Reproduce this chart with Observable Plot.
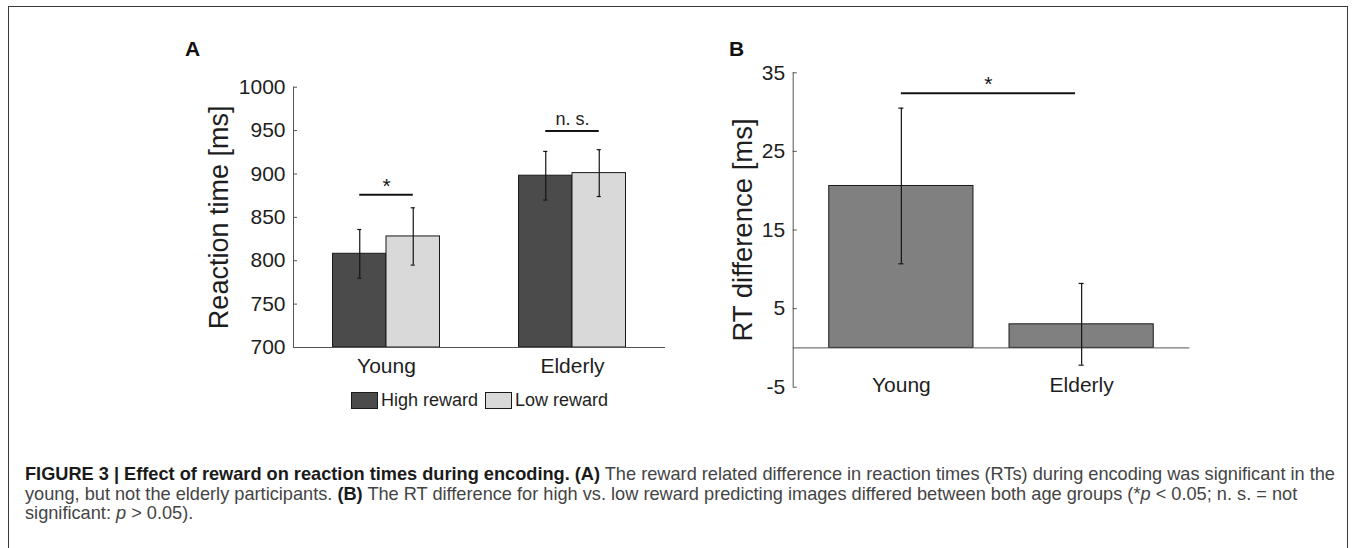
<!DOCTYPE html>
<html>
<head>
<meta charset="utf-8">
<script src="https://cdn.jsdelivr.net/npm/d3@7"></script>
<script src="https://cdn.jsdelivr.net/npm/@observablehq/plot@0.6"></script>
<style>
  html, body { margin: 0; padding: 0; background: #fff; }
  body { font-family: "Liberation Sans", Arial, Helvetica, sans-serif; }
  #root { position: relative; width: 1354px; height: 548px; overflow: hidden; background: #fff; }
  #border { position: absolute; left: 8px; top: 6px; width: 1340px; height: 620px; border: 1px solid #3a3a3a; box-sizing: border-box; }
  .panel { position: absolute; top: 0; }
  .plabel { position: absolute; font-weight: bold; font-size: 21px; color: #111; line-height: 1; }
  #legend { position: absolute; left: 351px; top: 391px; display: flex; align-items: center; font-size: 18px; color: #1e1e1e; line-height: 1; }
  #legend .sw { width: 27px; height: 17px; box-sizing: border-box; border: 1px solid #1a1a1a; margin-right: 3px; }
  #legend .item { display: flex; align-items: center; margin-right: 7px; }
  #caption { position: absolute; left: 25px; top: 465px; font-size: 18.2px; line-height: 19.5px; color: #444; white-space: nowrap; }
  #caption b { color: #1a1a1a; }
</style>
</head>
<body>
<div id="root">
  <div id="border"></div>
  <div id="panelA" class="panel" style="left:0px"></div>
  <div id="panelB" class="panel" style="left:700px"></div>
  <div class="plabel" style="left:185px; top:38px">A</div>
  <div class="plabel" style="left:729px; top:38px">B</div>
  <div id="legend"></div>
  <div id="caption"></div>
</div>
<script>
// ---------- Data ----------
const groups = ["Young", "Elderly"];
const rewardLevels = ["High reward", "Low reward"];
const rewardColors = ["#4b4b4b", "#d9d9d9"];

// Panel A: mean reaction time (ms) and error (SEM)
const highReward = [808, 898];
const lowReward = [828, 901];
const highErr = [28, 28];
const lowErr = [33, 27];
const sigALabels = ["*", "n. s."];
const sigALevels = [876, 949.5];
const yTicksA = [700, 750, 800, 850, 900, 950, 1000];

// Panel B: RT difference (ms) and error
const rtDiff = [20.6, 3.0];
const rtDiffErr = [9.9, 5.2];
const sigBLabel = "*";
const sigBLevel = 32.4;
const yTicksB = [-5, 5, 15, 25, 35];

// ---------- Shared style ----------
const FONT = "'Liberation Sans', Arial, Helvetica, sans-serif";
const AXIS = "#555";
const INK = "#141414";

// ---------- Panel A ----------
const BW = 0.2876;         // bar width in x units (MATLAB-like grouped bars)
const CAP_A = 0.011;
const rowsA = groups.flatMap((g, i) => [
  {group: g, pos: i + 1, reward: rewardLevels[0], value: highReward[i], err: highErr[i], side: -1},
  {group: g, pos: i + 1, reward: rewardLevels[1], value: lowReward[i], err: lowErr[i], side: 1}
]);
const ctr = d => d.pos + d.side * BW / 2;
const sigA = groups.map((g, i) => ({pos: i + 1, level: sigALevels[i], label: sigALabels[i]}));

const plotA = Plot.plot({
  width: 700, height: 430,
  marginLeft: 293, marginRight: 35, marginTop: 86.7, marginBottom: 83,
  style: {fontFamily: FONT, fontSize: "21px", color: "#1e1e1e", background: "transparent", overflow: "visible"},
  x: {domain: [0.5, 2.5]},
  y: {domain: [700, 1000]},
  color: {domain: rewardLevels, range: rewardColors},
  marks: [
    Plot.rect(rowsA, {
      x1: d => d.side < 0 ? d.pos - BW : d.pos,
      x2: d => d.side < 0 ? d.pos : d.pos + BW,
      y1: 700, y2: "value", fill: "reward", stroke: "#1a1a1a", strokeWidth: 1
    }),
    Plot.ruleY([700], {stroke: AXIS, strokeWidth: 1}),
    Plot.ruleX([0.5], {stroke: AXIS, strokeWidth: 1}),
    Plot.ruleX(rowsA, {x: ctr, y1: d => d.value - d.err, y2: d => d.value + d.err, stroke: INK, strokeWidth: 1.2}),
    Plot.ruleY(rowsA, {y: d => d.value - d.err, x1: d => ctr(d) - CAP_A, x2: d => ctr(d) + CAP_A, stroke: INK, strokeWidth: 1.2}),
    Plot.ruleY(rowsA, {y: d => d.value + d.err, x1: d => ctr(d) - CAP_A, x2: d => ctr(d) + CAP_A, stroke: INK, strokeWidth: 1.2}),
    Plot.ruleY(sigA, {y: "level", x1: d => d.pos - BW / 2, x2: d => d.pos + BW / 2, stroke: INK, strokeWidth: 2}),
    Plot.text(sigA.filter(d => d.label === "*"), {x: "pos", y: "level", text: "label", lineAnchor: "bottom", dy: -2, fontSize: 21, fill: INK}),
    Plot.text(sigA.filter(d => d.label !== "*"), {x: "pos", y: "level", text: "label", lineAnchor: "bottom", dy: -6, fontSize: 18, fill: "#1e1e1e"}),
    Plot.axisY({ticks: yTicksA, tickFormat: d => String(d), tickSize: -4, tickPadding: 12, label: null, stroke: AXIS, fontSize: 21}),
    Plot.axisX({ticks: [1, 2], tickFormat: d => groups[d - 1], tickSize: 0, tickPadding: 11, label: null, fontSize: 21}),
    Plot.text(["Reaction time [ms]"], {frameAnchor: "left", textAnchor: "middle", text: d => d, rotate: -90, dx: -74.5, fontSize: 27, fill: "#1e1e1e"})
  ]
});
document.getElementById("panelA").appendChild(plotA);

// ---------- Panel B ----------
const HALF_B = 0.4;
const CAP_B = 0.014;
const rowsB = groups.map((g, i) => ({group: g, pos: i + 1, value: rtDiff[i], err: rtDiffErr[i]}));
const sigB = [{from: 1, to: 1.966, level: sigBLevel, label: sigBLabel}];

const plotB = Plot.plot({
  width: 654, height: 430,
  marginLeft: 92.7, marginRight: 164.7, marginTop: 72.3, marginBottom: 43.3,
  style: {fontFamily: FONT, fontSize: "21px", color: "#1e1e1e", background: "transparent", overflow: "visible"},
  x: {domain: [0.4, 2.6]},
  y: {domain: [-5, 35]},
  marks: [
    Plot.rect(rowsB, {x1: d => d.pos - HALF_B, x2: d => d.pos + HALF_B, y1: 0, y2: "value", fill: "#808080", stroke: "#1a1a1a", strokeWidth: 1}),
    Plot.ruleY([0], {stroke: AXIS, strokeWidth: 1}),
    Plot.ruleX([0.4], {stroke: AXIS, strokeWidth: 1}),
    Plot.ruleX(rowsB, {x: "pos", y1: d => d.value - d.err, y2: d => d.value + d.err, stroke: INK, strokeWidth: 1.2}),
    Plot.ruleY(rowsB, {y: d => d.value - d.err, x1: d => d.pos - CAP_B, x2: d => d.pos + CAP_B, stroke: INK, strokeWidth: 1.2}),
    Plot.ruleY(rowsB, {y: d => d.value + d.err, x1: d => d.pos - CAP_B, x2: d => d.pos + CAP_B, stroke: INK, strokeWidth: 1.2}),
    Plot.ruleY(sigB, {y: "level", x1: "from", x2: "to", stroke: INK, strokeWidth: 2}),
    Plot.text(sigB, {x: d => (d.from + d.to) / 2, y: "level", text: "label", lineAnchor: "bottom", dy: -2, fontSize: 21, fill: INK}),
    Plot.axisY({ticks: yTicksB, tickFormat: d => String(d), tickSize: -4, tickPadding: 12, label: null, stroke: AXIS, fontSize: 21}),
    Plot.axisX({ticks: [1, 2], tickFormat: d => groups[d - 1], tickSize: 0, tickPadding: -10, label: null, fontSize: 21}),
    Plot.text(["RT difference [ms]"], {frameAnchor: "left", textAnchor: "middle", text: d => d, rotate: -90, dx: -50, fontSize: 27.5, fill: "#1e1e1e"})
  ]
});
document.getElementById("panelB").appendChild(plotB);

// ---------- Legend ----------
const legend = document.getElementById("legend");
rewardLevels.forEach((lvl, i) => {
  const item = document.createElement("div");
  item.className = "item";
  const sw = document.createElement("div");
  sw.className = "sw";
  sw.style.background = rewardColors[i];
  const tx = document.createElement("span");
  tx.textContent = lvl;
  item.appendChild(sw); item.appendChild(tx);
  legend.appendChild(item);
});

// ---------- Caption ----------
document.getElementById("caption").innerHTML =
  "<b>FIGURE 3 | Effect of reward on reaction times during encoding. (A)</b> The reward related difference in reaction times (RTs) during encoding was significant in the<br>" +
  "young, but not the elderly participants. <b>(B)</b> The RT difference for high vs. low reward predicting images differed between both age groups (*<i>p</i> &lt; 0.05; n. s. = not<br>" +
  "significant: <i>p</i> &gt; 0.05).";
</script>
</body>
</html>
